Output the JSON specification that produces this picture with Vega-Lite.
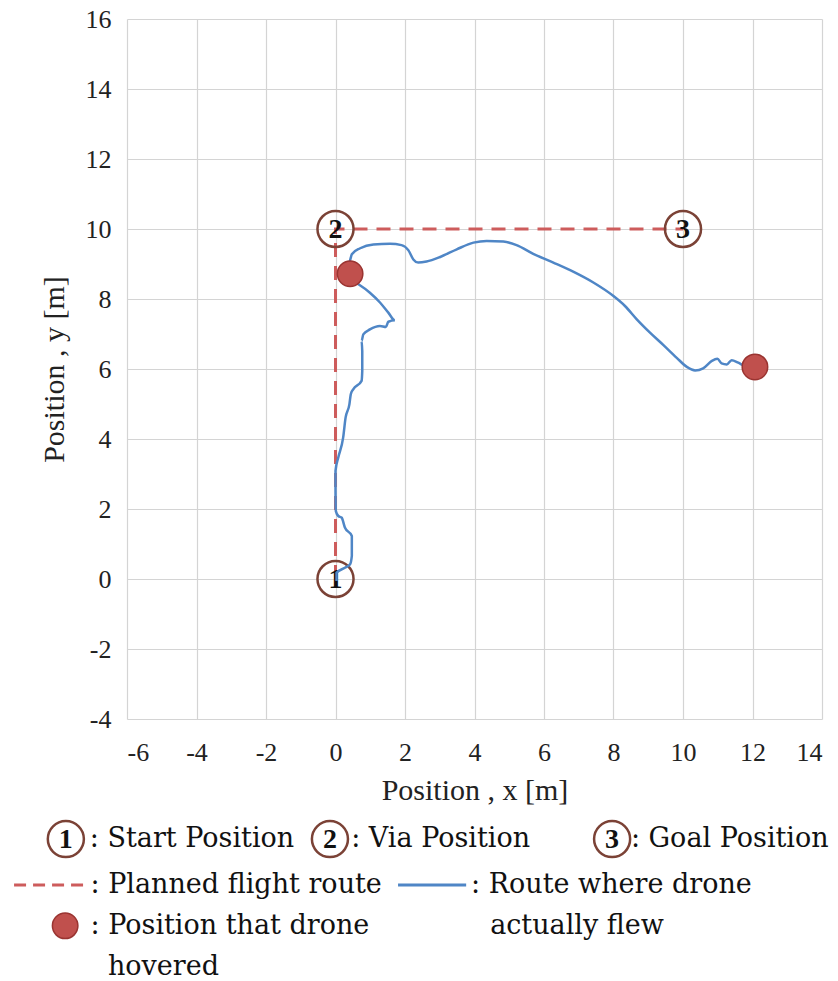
{
  "$schema": "https://vega.github.io/schema/vega-lite/v6.json",
  "width": 695,
  "height": 700,
  "autosize": {"type": "none"},
  "padding": {"left": 127, "top": 19, "right": 16, "bottom": 262},
  "background": "white",
  "config": {
    "view": {"stroke": null},
    "axis": {
      "labelFont": "Times New Roman, Liberation Serif, serif",
      "titleFont": "Times New Roman, Liberation Serif, serif",
      "labelColor": "#222222",
      "titleColor": "#222222",
      "titleFontWeight": "normal",
      "gridColor": "#d4d4d4",
      "gridWidth": 1.2,
      "domain": false,
      "ticks": false,
      "tickSize": 0,
      "labelExpr": "toString(datum.value)"
    }
  },
  "datasets": {
    "planned": [
      {"o": 1, "x": 0, "y": 0},
      {"o": 2, "x": 0, "y": 10},
      {"o": 3, "x": 10, "y": 10}
    ],
    "waypoints": [
      {"x": 0, "y": 0, "label": "1"},
      {"x": 0, "y": 10, "label": "2"},
      {"x": 10, "y": 10, "label": "3"},
      {"x": -7.76, "y": -7.43, "label": "1"},
      {"x": -0.16, "y": -7.43, "label": "2"},
      {"x": 7.96, "y": -7.43, "label": "3"}
    ],
    "actual": [
      {"i": 1, "x": 0.03, "y": -0.06},
      {"i": 2, "x": 0.03, "y": 0.18},
      {"i": 3, "x": 0.27, "y": 0.32},
      {"i": 4, "x": 0.42, "y": 0.42},
      {"i": 5, "x": 0.47, "y": 0.66},
      {"i": 6, "x": 0.47, "y": 1.23},
      {"i": 7, "x": 0.27, "y": 1.47},
      {"i": 8, "x": 0.18, "y": 1.75},
      {"i": 9, "x": 0.08, "y": 1.8},
      {"i": 10, "x": 0.01, "y": 1.94},
      {"i": 11, "x": 0.0, "y": 2.51},
      {"i": 12, "x": 0.0, "y": 3.09},
      {"i": 13, "x": 0.08, "y": 3.47},
      {"i": 14, "x": 0.22, "y": 4.04},
      {"i": 15, "x": 0.29, "y": 4.61},
      {"i": 16, "x": 0.4, "y": 4.99},
      {"i": 17, "x": 0.44, "y": 5.28},
      {"i": 18, "x": 0.51, "y": 5.42},
      {"i": 19, "x": 0.75, "y": 5.66},
      {"i": 20, "x": 0.77, "y": 5.94},
      {"i": 21, "x": 0.77, "y": 6.51},
      {"i": 22, "x": 0.75, "y": 6.8},
      {"i": 23, "x": 0.8, "y": 6.99},
      {"i": 24, "x": 0.99, "y": 7.13},
      {"i": 25, "x": 1.28, "y": 7.23},
      {"i": 26, "x": 1.45, "y": 7.2},
      {"i": 27, "x": 1.52, "y": 7.35},
      {"i": 28, "x": 1.71, "y": 7.39},
      {"i": 29, "x": 1.52, "y": 7.61},
      {"i": 30, "x": 1.28, "y": 7.9},
      {"i": 31, "x": 0.99, "y": 8.18},
      {"i": 32, "x": 0.66, "y": 8.42},
      {"i": 33, "x": 0.32, "y": 8.61},
      {"i": 34, "x": 0.37, "y": 8.89},
      {"i": 35, "x": 0.44, "y": 9.18},
      {"i": 36, "x": 0.47, "y": 9.28},
      {"i": 37, "x": 0.71, "y": 9.45},
      {"i": 38, "x": 1.09, "y": 9.56},
      {"i": 39, "x": 1.57, "y": 9.58},
      {"i": 40, "x": 1.9, "y": 9.54},
      {"i": 41, "x": 2.1, "y": 9.39},
      {"i": 42, "x": 2.24, "y": 9.13},
      {"i": 43, "x": 2.38, "y": 9.04},
      {"i": 44, "x": 2.62, "y": 9.07},
      {"i": 45, "x": 3.01, "y": 9.2},
      {"i": 46, "x": 3.49, "y": 9.42},
      {"i": 47, "x": 3.97, "y": 9.61},
      {"i": 48, "x": 4.35, "y": 9.66},
      {"i": 49, "x": 4.83, "y": 9.64},
      {"i": 50, "x": 5.21, "y": 9.54},
      {"i": 51, "x": 5.69, "y": 9.29},
      {"i": 52, "x": 6.27, "y": 9.04},
      {"i": 53, "x": 6.84, "y": 8.78},
      {"i": 54, "x": 7.42, "y": 8.47},
      {"i": 55, "x": 7.99, "y": 8.09},
      {"i": 56, "x": 8.33, "y": 7.8},
      {"i": 57, "x": 8.67, "y": 7.42},
      {"i": 58, "x": 9.05, "y": 7.04},
      {"i": 59, "x": 9.43, "y": 6.69},
      {"i": 60, "x": 9.82, "y": 6.32},
      {"i": 61, "x": 10.11, "y": 6.06},
      {"i": 62, "x": 10.35, "y": 5.96},
      {"i": 63, "x": 10.58, "y": 6.02},
      {"i": 64, "x": 10.83, "y": 6.23},
      {"i": 65, "x": 10.99, "y": 6.29},
      {"i": 66, "x": 11.11, "y": 6.16},
      {"i": 67, "x": 11.26, "y": 6.13},
      {"i": 68, "x": 11.4, "y": 6.25},
      {"i": 69, "x": 11.59, "y": 6.18},
      {"i": 70, "x": 11.78, "y": 6.09},
      {"i": 71, "x": 12.05, "y": 6.06}
    ],
    "hover": [
      {"x": 0.42, "y": 8.72},
      {"x": 12.07, "y": 6.06},
      {"x": -7.78, "y": -9.91}
    ],
    "legendText": [
      {"x": -7.07, "y": -7.43, "text": ":  Start Position"},
      {"x": 0.45, "y": -7.43, "text": ":  Via Position"},
      {"x": 8.5, "y": -7.43, "text": ":  Goal Position"},
      {"x": -7.05, "y": -8.74, "text": ":  Planned flight route"},
      {"x": 3.9, "y": -8.74, "text": ":  Route where drone"},
      {"x": 4.45, "y": -9.91, "text": "actually flew"},
      {"x": -7.05, "y": -9.91, "text": ":  Position that drone"},
      {"x": -6.55, "y": -11.09, "text": "hovered"}
    ],
    "legendPlanned": [{"x": -9.25, "x2": -7.12, "y": -8.74}],
    "legendActual": [{"x": 1.8, "x2": 3.76, "y": -8.74}]
  },
  "layer": [
    {
      "data": {"name": "planned"},
      "mark": {"type": "line", "color": "#cd5c5c", "strokeWidth": 3, "strokeDash": [14, 9]},
      "encoding": {
        "x": {
          "field": "x", "type": "quantitative",
          "scale": {"domain": [-6, 14], "nice": false, "zero": false},
          "axis": {"values": [-6, -4, -2, 0, 2, 4, 6, 8, 10, 12, 14], "labelFontSize": 26, "labelPadding": 20, "titleFontSize": 30, "titlePadding": 10, "title": "Position , x [m]"}
        },
        "y": {
          "field": "y", "type": "quantitative",
          "scale": {"domain": [-4, 16], "nice": false, "zero": false},
          "axis": {"values": [-4, -2, 0, 2, 4, 6, 8, 10, 12, 14, 16], "labelFontSize": 26, "labelPadding": 16, "titleFontSize": 30, "titlePadding": 16, "title": "Position , y [m]"}
        },
        "order": {"field": "o"}
      }
    },
    {
      "data": {"name": "waypoints"},
      "mark": {"type": "point", "shape": "circle", "size": 1300, "filled": false, "stroke": "#7b4236", "strokeWidth": 2.5, "opacity": 1},
      "encoding": {
        "x": {"field": "x", "type": "quantitative"},
        "y": {"field": "y", "type": "quantitative"}
      }
    },
    {
      "data": {"name": "waypoints"},
      "mark": {"type": "text", "font": "Times New Roman, Liberation Serif, serif", "fontWeight": "bold", "fontSize": 28, "color": "#111111", "baseline": "middle", "align": "center", "dy": 1},
      "encoding": {
        "x": {"field": "x", "type": "quantitative"},
        "y": {"field": "y", "type": "quantitative"},
        "text": {"field": "label"}
      }
    },
    {
      "data": {"name": "actual"},
      "mark": {"type": "line", "color": "#4f86c6", "strokeWidth": 2.5, "interpolate": "monotone"},
      "encoding": {
        "x": {"field": "x", "type": "quantitative"},
        "y": {"field": "y", "type": "quantitative"},
        "order": {"field": "i"}
      }
    },
    {
      "data": {"name": "hover"},
      "mark": {"type": "point", "shape": "circle", "size": 650, "filled": true, "fill": "#c0504d", "stroke": "#9a3431", "strokeWidth": 1.5, "opacity": 1},
      "encoding": {
        "x": {"field": "x", "type": "quantitative"},
        "y": {"field": "y", "type": "quantitative"}
      }
    },
    {
      "data": {"name": "legendPlanned"},
      "mark": {"type": "rule", "color": "#cd5c5c", "strokeWidth": 3, "strokeDash": [12, 7]},
      "encoding": {
        "x": {"field": "x", "type": "quantitative"},
        "x2": {"field": "x2"},
        "y": {"field": "y", "type": "quantitative"}
      }
    },
    {
      "data": {"name": "legendActual"},
      "mark": {"type": "rule", "color": "#4f86c6", "strokeWidth": 3},
      "encoding": {
        "x": {"field": "x", "type": "quantitative"},
        "x2": {"field": "x2"},
        "y": {"field": "y", "type": "quantitative"}
      }
    },
    {
      "data": {"name": "legendText"},
      "mark": {"type": "text", "font": "DejaVu Serif", "fontSize": 27, "color": "#111111", "align": "left", "baseline": "middle"},
      "encoding": {
        "x": {"field": "x", "type": "quantitative"},
        "y": {"field": "y", "type": "quantitative"},
        "text": {"field": "text"}
      }
    }
  ]
}
